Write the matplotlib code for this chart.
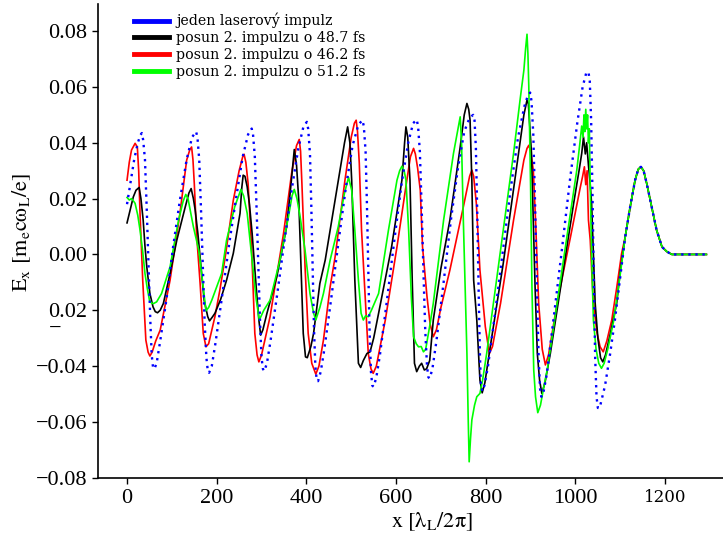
import matplotlib
matplotlib.use("Agg")
import matplotlib.pyplot as plt

# --- data (x in lambda_L/2pi, Ex in m_e c omega_L / e) ---

# common tail, all runs coincide behind x ~ 1110
tail_x = [1111, 1122, 1133, 1140, 1146, 1152, 1159, 1170, 1181, 1193, 1204, 1215, 1292]
tail_y = [0.0063, 0.017, 0.0266, 0.0305, 0.0314, 0.030, 0.0254, 0.017, 0.0087, 0.0027, 0.001, 0.0, 0.0]

single_x = [0, 8, 16, 24, 30, 33, 36, 40, 44, 48, 52, 55, 58, 61, 66, 74, 88, 103, 118, 133, 145, 154,
            157, 161, 165, 169, 173, 177, 180, 183, 189, 197, 212, 228, 244, 258, 270, 278,
            281, 285, 289, 293, 297, 300, 303, 306, 312, 320, 336, 352, 368, 382, 393, 401,
            404, 408, 411, 414, 417, 420, 423, 426, 432, 440, 456, 472, 488, 503, 516, 525,
            528, 532, 535, 538, 541, 544, 547, 550, 556, 564, 580, 596, 612, 627, 638, 646,
            649, 653, 657, 661, 665, 669, 672, 675, 681, 690, 706, 722, 738, 752, 764, 772,
            775, 778, 781, 784, 787, 789, 792, 797, 805, 820, 838, 856, 872, 886, 894, 899,
            902, 906, 910, 914, 918, 921, 924, 928, 936, 952, 970, 988, 1004, 1016, 1024, 1029,
            1032, 1035, 1038, 1041, 1044, 1047, 1050, 1054, 1060, 1066, 1077, 1088, 1100]
single_y = [0.018, 0.026, 0.034, 0.040, 0.0428, 0.0435, 0.041, 0.034, 0.016, -0.004, -0.024, -0.036, -0.0405, -0.041, -0.039, -0.031, -0.016, 0.003, 0.0195, 0.034, 0.042, 0.044,
            0.042, 0.034, 0.016, -0.004, -0.024, -0.037, -0.0415, -0.0424, -0.040, -0.032, -0.015, 0.004, 0.021, 0.035, 0.043, 0.0451,
            0.043, 0.035, 0.016, -0.005, -0.026, -0.037, -0.041, -0.0418, -0.039, -0.031, -0.013, 0.006, 0.024, 0.038, 0.0455, 0.0475,
            0.045, 0.036, 0.017, -0.005, -0.027, -0.040, -0.045, -0.0454, -0.042, -0.034, -0.015, 0.005, 0.024, 0.039, 0.0465, 0.0481,
            0.046, 0.037, 0.018, -0.005, -0.028, -0.042, -0.047, -0.0474, -0.044, -0.036, -0.016, 0.005, 0.025, 0.040, 0.047, 0.0483,
            0.046, 0.037, 0.017, -0.006, -0.027, -0.040, -0.044, -0.0444, -0.041, -0.031, -0.010, 0.012, 0.031, 0.044, 0.049, 0.050,
            0.048, 0.038, 0.015, -0.012, -0.036, -0.046, -0.049, -0.047, -0.040, -0.022, 0.001, 0.024, 0.042, 0.053, 0.057, 0.058,
            0.055, 0.043, 0.018, -0.012, -0.037, -0.048, -0.051, -0.050, -0.043, -0.022, 0.002, 0.027, 0.047, 0.060, 0.065, 0.0654,
            0.062, 0.048, 0.022, -0.010, -0.037, -0.051, -0.055, -0.055, -0.051, -0.047, -0.036, -0.0235, -0.008]

shift487_x = [0, 7, 14, 20, 27, 31, 36, 40, 44, 51, 58, 63, 68, 74, 81, 96, 111, 129, 138, 143, 148, 152,
              158, 165, 172, 180, 184, 190, 196, 209, 222, 237, 252, 256, 259, 263, 268, 273, 279, 288,
              294, 298, 303, 312, 334, 356, 365, 373, 378, 383, 388, 393, 398, 402, 405, 410, 416, 430,
              442, 453, 470, 485, 492, 497, 501, 508, 516, 521, 527, 535, 542, 550, 561, 590, 613, 619,
              622, 626, 631, 636, 641, 646, 652, 657, 663, 668, 675, 683, 700, 720, 743, 752, 758, 762,
              765, 769, 773, 780, 787, 792, 798, 810, 839, 869, 885, 892, 895, 902, 906, 910, 915, 920,
              925, 932, 944, 973, 996, 1008, 1014, 1018, 1022, 1025, 1029, 1033, 1036, 1040, 1044, 1050,
              1056, 1061, 1067, 1077, 1092, 1100]
shift487_y = [0.0113, 0.016, 0.0206, 0.023, 0.024, 0.020, 0.0123, 0.003, -0.0044, -0.014, -0.0188, -0.0205, -0.0209, -0.020, -0.0176, -0.0068, 0.0051, 0.0165, 0.022, 0.0236, 0.020, 0.0159,
              0.0075, -0.0044, -0.0164, -0.0223, -0.0238, -0.0225, -0.0211, -0.016, -0.0092, 0.0004, 0.0147, 0.024, 0.0284, 0.028, 0.0242, 0.018, 0.0075, -0.0116,
              -0.0235, -0.0289, -0.027, -0.0211, -0.008, 0.0099, 0.024, 0.0376, 0.032, 0.0194, -0.0044, -0.0283, -0.0367, -0.037, -0.0355, -0.033, -0.0283, -0.0104,
              -0.002, 0.0087, 0.025, 0.040, 0.0457, 0.040, 0.0266, -0.0092, -0.039, -0.0405, -0.038, -0.0355, -0.0349, -0.030, -0.0211, 0.0027, 0.0266, 0.040,
              0.0457, 0.042, 0.0266, -0.0092, -0.039, -0.042, -0.040, -0.039, -0.0414, -0.041, -0.038, -0.0235, -0.005, 0.0123, 0.0385, 0.050, 0.0541, 0.052,
              0.0481, 0.0266, -0.0092, -0.0235, -0.045, -0.0496, -0.046, -0.0331, -0.0032, 0.0314, 0.050, 0.0553, 0.054, 0.0362, 0.0123, -0.0116, -0.0355, -0.045,
              -0.0498, -0.046, -0.0355, -0.0056, 0.0183, 0.030, 0.0362, 0.0421, 0.036, 0.040, 0.032, 0.025, 0.0183, 0.0004, -0.0175, -0.030,
              -0.037, -0.0385, -0.036, -0.029, -0.0175, -0.006]

shift462_x = [0, 5, 10, 18, 23, 26, 29, 35, 42, 47, 51, 56, 64, 74, 96, 118, 133, 140, 144, 147, 150, 155,
              163, 170, 176, 182, 196, 207, 219, 237, 250, 258, 261, 265, 270, 278, 285, 290, 294, 300,
              319, 349, 367, 378, 384, 387, 390, 397, 404, 412, 421, 428, 438, 453, 464, 486, 500, 507,
              511, 514, 518, 523, 531, 538, 544, 549, 556, 576, 602, 624, 632, 639, 643, 648, 654, 659,
              669, 676, 683, 690, 700, 720, 750, 764, 769, 773, 779, 787, 799, 808, 815, 833, 862, 885,
              892, 896, 900, 906, 911, 918, 926, 933, 940, 959, 989, 1011, 1016, 1020, 1023, 1026, 1029,
              1033, 1036, 1040, 1048, 1055, 1062, 1070, 1081, 1092, 1103]
shift462_y = [0.0266, 0.033, 0.0374, 0.0398, 0.0385, 0.030, 0.0147, -0.0092, -0.0307, -0.035, -0.0364, -0.035, -0.031, -0.0271, -0.0092, 0.0147, 0.0338, 0.0375, 0.0385, 0.034, 0.0254, 0.0075,
              -0.0104, -0.0283, -0.0331, -0.032, -0.0223, -0.0128, -0.0009, 0.0194, 0.030, 0.035, 0.0359, 0.033, 0.0254, 0.0015, -0.0283, -0.036, -0.0385, -0.036,
              -0.0223, 0.0075, 0.029, 0.039, 0.0412, 0.037, 0.0254, -0.0044, -0.0283, -0.039, -0.0429, -0.040, -0.0307, -0.0116, -0.0009, 0.0266, 0.042, 0.047,
              0.0481, 0.044, 0.0326, 0.0087, -0.0152, -0.0355, -0.041, -0.0426, -0.040, -0.0235, 0.0027, 0.0266, 0.035, 0.038, 0.036, 0.031, 0.023, 0.0027,
              -0.0152, -0.025, -0.0295, -0.027, -0.019, -0.0056, 0.017, 0.028, 0.0302, 0.028, 0.0183, -0.0056, -0.0259, -0.0355, -0.033, -0.0175, 0.0123, 0.0338,
              0.038, 0.0391, 0.037, 0.0302, 0.0123, -0.0175, -0.034, -0.0396, -0.036, -0.0175, 0.0063, 0.0242, 0.028, 0.0314, 0.025, 0.030, 0.0123,
              0.0051, -0.005, -0.0175, -0.028, -0.0331, -0.0349, -0.031, -0.0235, -0.012, 0.0004]

shift512_x = [0, 5, 10, 15, 18, 24, 29, 35, 40, 45, 50, 55, 59, 66, 77, 96, 115, 125, 131, 136, 142, 148,
              160, 169, 176, 182, 189, 211, 222, 240, 254, 260, 268, 279, 288, 295, 305, 319, 341, 360,
              368, 373, 379, 386, 397, 408, 416, 421, 430, 438, 453, 471, 485, 494, 501, 508, 516, 522,
              527, 532, 538, 545, 561, 583, 602, 608, 613, 618, 622, 628, 634, 639, 645, 650, 656, 661,
              666, 676, 683, 706, 728, 738, 743, 746, 750, 754, 758, 761, 763, 766, 769, 775, 780, 787,
              793, 802, 832, 862, 877, 885, 889, 892, 894, 896, 900, 903, 907, 911, 916, 922, 930, 937,
              959, 981, 1003, 1010, 1014, 1017, 1019, 1021, 1023, 1025, 1027, 1029, 1031, 1033, 1036,
              1040, 1046, 1052, 1058, 1064, 1072, 1085, 1100]
shift512_y = [0.0204, 0.0195, 0.020, 0.019, 0.0183, 0.014, 0.0087, 0.001, -0.0068, -0.012, -0.0164, -0.0175, -0.0176, -0.017, -0.014, -0.0044, 0.0123, 0.019, 0.0215, 0.020, 0.015, 0.0099,
              0.0015, -0.0104, -0.0202, -0.019, -0.0164, -0.0068, 0.0051, 0.017, 0.0233, 0.021, 0.0147, -0.002, -0.016, -0.0235, -0.020, -0.0164, -0.002, 0.0135,
              0.021, 0.0233, 0.020, 0.0135, 0.0015, -0.014, -0.021, -0.0235, -0.019, -0.014, -0.002, 0.0099, 0.022, 0.0276, 0.023, 0.0087, -0.0092, -0.0211,
              -0.0235, -0.022, -0.0223, -0.020, -0.014, 0.0087, 0.0266, 0.030, 0.0316, 0.030, 0.0266, 0.0087, -0.0152, -0.0295, -0.032, -0.0331, -0.033, -0.0349,
              -0.034, -0.0247, -0.0175, 0.0123, 0.0362, 0.045, 0.0493, 0.040, 0.0123, -0.012, -0.0355, -0.060, -0.0743, -0.066, -0.0593, -0.054, -0.051, -0.0498,
              -0.045, -0.0355, 0.0004, 0.0362, 0.056, 0.066, 0.074, 0.0789, 0.072, 0.060, 0.0242, -0.0116, -0.0414, -0.051, -0.0567, -0.054, -0.047, -0.0414,
              -0.0175, 0.0063, 0.0302, 0.040, 0.046, 0.042, 0.050, 0.044, 0.052, 0.045, 0.050, 0.040, 0.045, 0.0242, 0.0004,
              -0.0235, -0.034, -0.039, -0.0408, -0.039, -0.034, -0.024, -0.007]

labels = ["jeden laserový impulz",
          "posun 2. impulzu o 48.7 fs",
          "posun 2. impulzu o 46.2 fs",
          "posun 2. impulzu o 51.2 fs"]

y_ticks = [-0.08, -0.06, -0.04, -0.02, 0.0, 0.02, 0.04, 0.06, 0.08]
y_tick_labels = ["\u22120.08", "\u22120.06", "\u22120.04", "0.02", "0.00", "0.02", "0.04", "0.06", "0.08"]
x_ticks = [0, 200, 400, 600, 800, 1000, 1200]
x_tick_labels = ["0", "200", "400", "600", "800", "1000", "1200"]

plt.rcParams["mathtext.fontset"] = "stix"
plt.rcParams["font.family"] = "DejaVu Serif"

fig = plt.figure(figsize=(7.23, 5.37), dpi=100)
# the original figure was cropped on the right: axes reaches past that edge
ax = fig.add_axes([0.136, 0.1104, 0.9235, 0.882])

lw = 1.2
ax.plot(single_x + tail_x, single_y + tail_y, color="#0000ff", linewidth=1.7,
        linestyle=(0, (1, 2)), zorder=5)
ax.plot(shift487_x + tail_x, shift487_y + tail_y, color="black", linewidth=lw, zorder=3)
ax.plot(shift462_x + tail_x, shift462_y + tail_y, color="#ff0000", linewidth=lw, zorder=2)
ax.plot(shift512_x + tail_x, shift512_y + tail_y, color="#00ff00", linewidth=lw, zorder=4)

# legend uses thick solid handles
handles = [plt.Line2D([], [], color=c, linewidth=3.5)
           for c in ["#0000ff", "black", "#ff0000", "#00ff00"]]
ax.legend(handles, labels, loc="upper left", bbox_to_anchor=(134 / 723, 1 - 13 / 537),
          bbox_transform=fig.transFigure, frameon=False, fontsize=10.2,
          borderpad=0, borderaxespad=0, handlelength=2.5, handletextpad=0.5,
          labelspacing=0.2)

ax.set_xlim(-64, 1425)
ax.set_ylim(-0.08, 0.0897)

ax.set_yticks(y_ticks)
ax.set_yticklabels(y_tick_labels, fontfamily="Liberation Serif", fontsize=16)
ax.set_xticks(x_ticks)
ax.set_xticklabels(x_tick_labels, fontfamily="Liberation Serif", fontsize=16)
ax.get_xticklabels()[-1].set_fontfamily("DejaVu Serif")
ax.get_xticklabels()[-1].set_fontsize(12)
ax.tick_params(direction="out", length=4.5, width=1.0, pad=3.3)

for side in ["top", "right"]:
    ax.spines[side].set_visible(False)
for side in ["left", "bottom"]:
    ax.spines[side].set_linewidth(1.2)

ax.set_xlabel(r"$\mathrm{x\ [\lambda_L/2\pi]}$", fontsize=16)
ax.set_ylabel(r"$\mathrm{E_x\ [m_e c\omega_L/e]}$", fontsize=16)
ax.xaxis.set_label_coords(0.4998, -0.07)
ax.yaxis.set_label_coords(-0.0978, 0.519)

# the minus of -0.02 sits detached below its label in the original
fig.text(55 / 723, 1 - 329 / 537, "\u2212", fontfamily="Liberation Serif", fontsize=16,
         ha="center", va="center")

fig.savefig("out.png", dpi=100)
